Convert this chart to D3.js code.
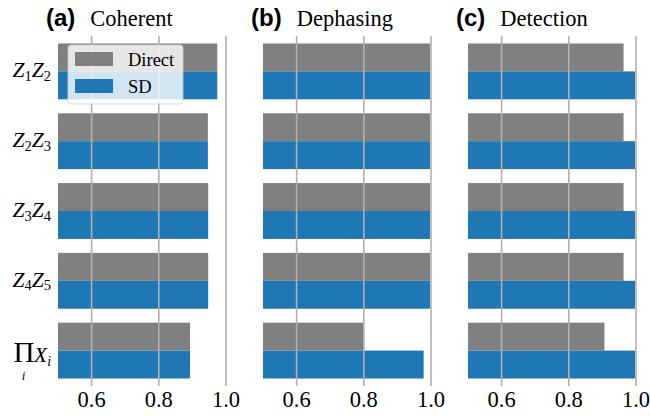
<!DOCTYPE html>
<html>
<head>
<meta charset="utf-8">
<script src="https://cdn.jsdelivr.net/npm/d3@7"></script>
<style>
  body { margin: 0; background: #fff; }
</style>
</head>
<body>
<div id="chart-area"></div>
<script>
// data
var rows = [["Z", "1", "Z", "2"], ["Z", "2", "Z", "3"], ["Z", "3", "Z", "4"], ["Z", "4", "Z", "5"], ["prod"]];
var panelTags = ["(a)", "(b)", "(c)"];
var panelNames = ["Coherent", "Dephasing", "Detection"];
var seriesNames = ["Direct", "SD"];
var seriesColors = ["#808080", "#1f77b4"];
var directCoherent = [0.974, 0.946, 0.947, 0.947, 0.893];
var sdCoherent = [0.974, 0.946, 0.947, 0.947, 0.893];
var directDephasing = [0.997, 0.997, 0.997, 0.997, 0.801];
var sdDephasing = [0.997, 0.997, 0.997, 0.997, 0.978];
var directDetection = [0.963, 0.963, 0.963, 0.963, 0.906];
var sdDetection = [0.997, 0.997, 0.997, 0.997, 0.997];
var xTicks = [0.6, 0.8, 1.0];

var panelData = [
    [directCoherent, sdCoherent],
    [directDephasing, sdDephasing],
    [directDetection, sdDetection]
];

var serif = "'Liberation Serif', 'Times New Roman', Times, 'DejaVu Serif', serif";
var sans = "'Liberation Sans', Arial, Helvetica, sans-serif";

var width = 650, height = 416;
var panelLeft = 58, panelWidth = 168, panelStep = 205;
var barH = 0.4;

var svg = d3.select("#chart-area")
    .append("svg")
        .attr("width", width)
        .attr("height", height)
        .attr("font-family", serif);

var y = d3.scaleLinear()
    .domain([-0.5, 4.5])
    .range([36.5, 385.5]);

panelData.forEach(function(series, p) {
    var left = panelLeft + p * panelStep;
    var x = d3.scaleLinear()
        .domain([0.5, 1.0])
        .range([left, left + panelWidth]);
    var g = svg.append("g");

    // bars
    series.forEach(function(vals, s) {
        g.selectAll("rect.s" + s)
            .data(vals)
            .enter()
            .append("rect")
                .attr("class", "s" + s)
                .attr("x", x(0.5))
                .attr("y", function(d, i) { return y(i - barH + s * barH); })
                .attr("width", function(d) { return x(d) - x(0.5); })
                .attr("height", y(barH) - y(0))
                .attr("fill", seriesColors[s]);
    });

    // grid on top of bars
    g.selectAll("line.grid")
        .data(xTicks)
        .enter()
        .append("line")
            .attr("class", "grid")
            .attr("x1", function(d) { return x(d); })
            .attr("x2", function(d) { return x(d); })
            .attr("y1", 36)
            .attr("y2", 386)
            .attr("stroke", "#b0b0b0")
            .attr("stroke-width", 1.6);

    // tick labels
    g.selectAll("text.tick")
        .data(xTicks)
        .enter()
        .append("text")
            .attr("class", "tick")
            .attr("x", function(d) { return x(d); })
            .attr("y", 406.5)
            .attr("text-anchor", "middle")
            .attr("font-family", serif)
            .attr("font-size", "22.5px")
            .text(function(d) { return d3.format(".1f")(d); });

    // title
    var title = g.append("text")
        .attr("x", left - 12)
        .attr("y", 26)
        .attr("font-family", serif);
    title.append("tspan")
        .attr("font-family", sans)
        .attr("font-weight", "bold")
        .attr("font-size", "24px")
        .text(panelTags[p]);
    title.append("tspan")
        .attr("dx", 15)
        .attr("font-family", serif)
        .attr("font-size", "22.5px")
        .text(panelNames[p]);
});

// y labels
rows.forEach(function(r, i) {
    if (r[0] == "prod") {
        var base = y(i) + 11.7;
        svg.append("text")
            .attr("x", 24)
            .attr("y", base)
            .attr("text-anchor", "middle")
            .attr("font-family", serif)
            .attr("font-size", "29px")
            .text("\u03A0");
        svg.append("text")
            .attr("x", 23.5)
            .attr("y", base + 18)
            .attr("text-anchor", "middle")
            .attr("font-family", serif)
            .attr("font-size", "13px")
            .attr("font-style", "italic")
            .text("i");
        var t = svg.append("text")
            .attr("x", 34)
            .attr("y", base)
            .attr("font-family", serif)
            .attr("font-style", "italic");
        t.append("tspan").attr("font-size", "21.5px").text("X");
        t.append("tspan").attr("font-size", "14px").attr("dy", 4).text("i");
        return;
    }
    var lbl = svg.append("text")
        .attr("x", 51)
        .attr("y", y(i) + 6)
        .attr("text-anchor", "end")
        .attr("font-family", serif);
    lbl.append("tspan").attr("font-size", "21.5px").attr("font-style", "italic").text(r[0]);
    lbl.append("tspan").attr("font-size", "14.5px").attr("dy", 3.5).text(r[1]);
    lbl.append("tspan").attr("font-size", "21.5px").attr("font-style", "italic").attr("dy", -3.5).text(r[2]);
    lbl.append("tspan").attr("font-size", "14.5px").attr("dy", 3.5).text(r[3]);
});

// legend
var legend = svg.append("g")
    .attr("transform", "translate(68, 45)");
legend.append("rect")
    .attr("width", 115)
    .attr("height", 59)
    .attr("rx", 3)
    .attr("fill", "#fff")
    .attr("fill-opacity", 0.8)
    .attr("stroke", "#cccccc")
    .attr("stroke-opacity", 0.8)
    .attr("stroke-width", 1);
seriesNames.forEach(function(name, i) {
    legend.append("rect")
        .attr("x", 7)
        .attr("y", 7 + i * 27)
        .attr("width", 38)
        .attr("height", 14)
        .attr("fill", seriesColors[i]);
    legend.append("text")
        .attr("x", 60)
        .attr("y", 20.7 + i * 27)
        .attr("font-family", serif)
        .attr("font-size", "18.5px")
        .text(name);
});
</script>
</body>
</html>
